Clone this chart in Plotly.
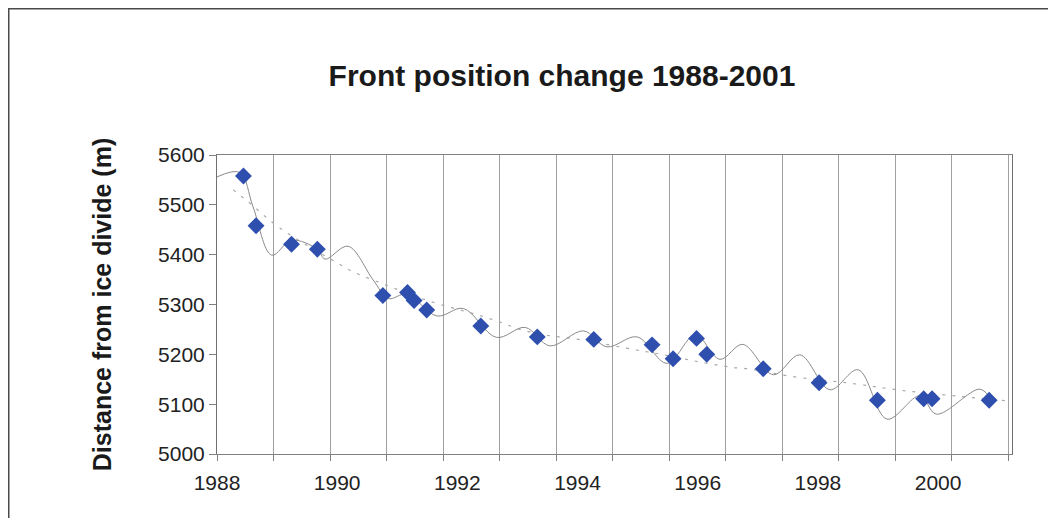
import plotly.graph_objects as go

# Observed front positions (diamonds)
obs_year = [1988.44, 1988.65, 1989.24, 1989.67, 1990.76, 1991.17, 1991.28, 1991.49,
            1992.39, 1993.33, 1994.27, 1995.24, 1995.59, 1995.98, 1996.15, 1997.09,
            1998.02, 1998.99, 1999.76, 1999.90, 2000.85]
obs_dist = [5558, 5458, 5421, 5411, 5318, 5324, 5308, 5289,
            5257, 5235, 5230, 5219, 5191, 5232, 5200, 5171,
            5143, 5108, 5111, 5111, 5108]

# Smoothed seasonal curve (thin grey line)
curve_year = [1988.00, 1988.38, 1988.60, 1988.91, 1989.24, 1989.67, 1989.80, 1990.18,
              1990.60, 1990.85, 1991.16, 1991.66, 1992.10, 1992.65, 1993.13, 1993.54,
              1994.10, 1994.49, 1994.99, 1995.49, 1995.96, 1996.37, 1996.75, 1997.26,
              1997.70, 1998.20, 1998.67, 1999.15, 1999.70, 1999.97, 2000.70, 2000.90]
curve_dist = [5556, 5565, 5496, 5399, 5429, 5411, 5391, 5417,
              5349, 5312, 5321, 5277, 5292, 5234, 5254, 5217,
              5247, 5215, 5235, 5182, 5239, 5190, 5220, 5159,
              5199, 5129, 5169, 5070, 5117, 5080, 5130, 5105]

# Dotted trend line
trend_year = [1988.27, 1988.52, 1989.05, 1990.01, 1990.26, 1990.88, 1991.50, 1992.40,
              1992.70, 1993.05, 1993.40, 1994.07, 1994.96, 1995.26, 1995.93, 1996.57,
              1996.90, 1997.54, 1998.54, 1999.37, 2000.33, 2001.23]
trend_dist = [5530, 5506, 5453, 5383, 5366, 5336, 5308, 5277,
              5265, 5250, 5240, 5229, 5209, 5203, 5187, 5174,
              5170, 5156, 5142, 5128, 5116, 5106]

x_labels = [1988, 1990, 1992, 1994, 1996, 1998, 2000]
y_ticks = [5000, 5100, 5200, 5300, 5400, 5500, 5600]

FONT = "Liberation Sans, Arial, sans-serif"

fig = go.Figure()
fig.add_trace(go.Scatter(x=trend_year, y=trend_dist, mode="lines",
                         line=dict(color="#a8a8a8", width=1.2, dash="3px,7px", shape="spline"),
                         hoverinfo="skip", showlegend=False))
fig.add_trace(go.Scatter(x=curve_year, y=curve_dist, mode="lines",
                         line=dict(color="#8a8a8a", width=1, shape="spline", smoothing=1.0),
                         hoverinfo="skip", showlegend=False))
fig.add_trace(go.Scatter(x=obs_year, y=obs_dist, mode="markers",
                         marker=dict(symbol="diamond", size=13, color="#2f4fae",
                                     line=dict(width=0)),
                         showlegend=False))

# page offset (body margin) of 8 px compensated in margins
OFF = 8
W, H = 1056, 518
L, T = 217 - OFF, 155 - OFF
pw, ph = 795, 299
R = W - L - pw
B = H - T - ph

def px_x(p):
    return (p - L) / pw

def px_y(p):
    return (T + ph - p) / ph

fig.add_shape(type="rect", xref="paper", yref="paper",
              x0=px_x(0.5), x1=px_x(1080), y0=px_y(540), y1=px_y(0.5),
              line=dict(color="#4a4a4a", width=2), fillcolor="rgba(0,0,0,0)", layer="below")

fig.update_layout(
    width=W, height=H,
    margin=dict(l=L, r=R, t=T, b=B),
    paper_bgcolor="white", plot_bgcolor="white",
    title=dict(text="<b>Front position change 1988-2001</b>", xref="container", yref="container",
               x=(562 - OFF) / W, y=1 - (75 - OFF) / H, xanchor="center", yanchor="middle",
               font=dict(family=FONT, size=30, color="#1a1a1a")),
    xaxis=dict(range=[1988, 2001.23], tickmode="array", tickvals=x_labels,
               ticktext=[str(v) for v in x_labels], ticks="", showgrid=False,
               tickfont=dict(family=FONT, size=21, color="#222"),
               ticklabelstandoff=10,
               showline=True, linecolor="#808080", linewidth=1, mirror=True,
               zeroline=False,
               minor=dict(tickmode="linear", tick0=1988, dtick=0.9404, ticks="outside",
                          ticklen=6, tickcolor="#808080", showgrid=True,
                          gridcolor="#a0a0a0", gridwidth=1)),
    yaxis=dict(range=[5000, 5600], tickmode="array", tickvals=y_ticks,
               ticks="outside", ticklen=7, tickcolor="#808080", showgrid=False,
               tickfont=dict(family=FONT, size=21, color="#222"),
               showline=True, linecolor="#707070", linewidth=1, mirror=True,
               zeroline=False,
               title=dict(text="<b>Distance from ice divide (m)</b>", standoff=39,
                          font=dict(family=FONT, size=25, color="#1a1a1a"))),
)

fig.write_html("out.html")
